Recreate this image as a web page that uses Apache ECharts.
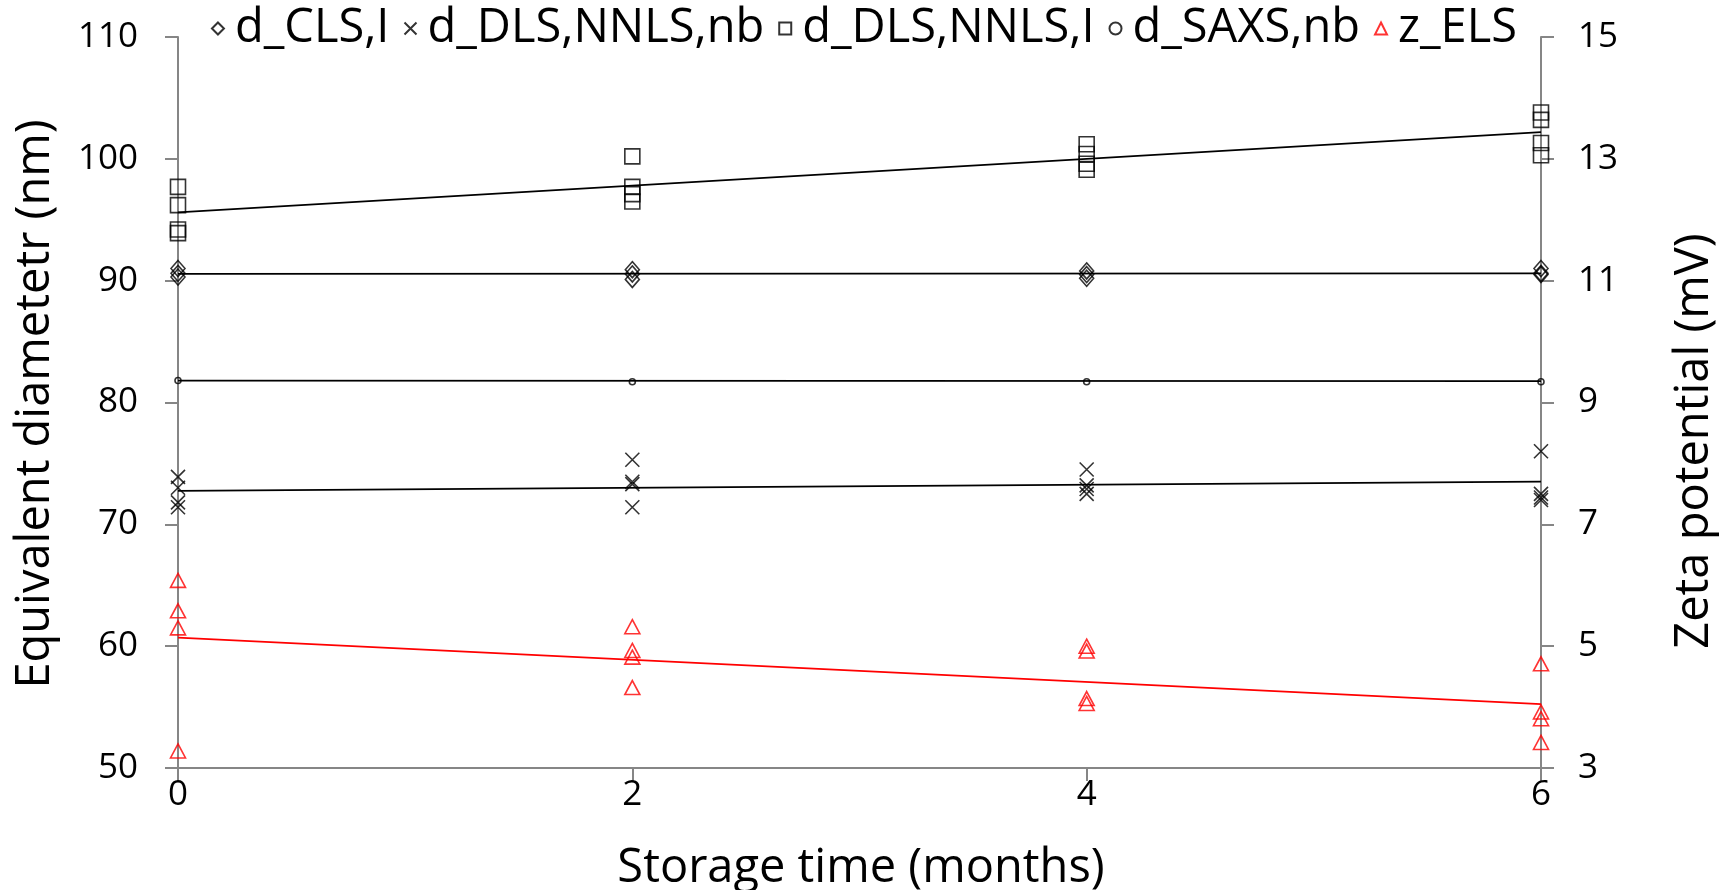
<!DOCTYPE html>
<html>
<head>
<meta charset="utf-8">
<title>Storage stability</title>
<script src="https://cdn.jsdelivr.net/npm/echarts@6/dist/echarts.min.js"></script>
<style>
  html, body { margin: 0; padding: 0; background: #fff; }
  #chart { width: 1728px; height: 890px; }
</style>
</head>
<body>
<div id="chart"></div>
<script>
// storage time (months)
const months = [0, 2, 4, 6];

// replicate readings per month (nm), left axis
const dClsI = [[91.0, 90.6, 90.3], [90.9, 90.55, 90.1], [90.8, 90.5, 90.2], [91.0, 90.6, 90.5]];
const dDlsNb = [[73.9, 73.0, 71.8, 71.4], [75.3, 73.5, 73.3, 71.4], [74.5, 73.2, 72.9, 72.5], [76.0, 72.5, 72.2, 72.0]];
const dDlsI = [[97.7, 96.2, 94.2, 93.9], [100.2, 97.7, 97.1, 96.5], [101.2, 100.4, 99.6, 99.1], [103.8, 103.2, 101.3, 100.3]];
const dSaxsNb = [[81.8], [81.7], [81.7], [81.7]];

// zeta potential replicates (mV), right axis
const zEls = [[6.08, 5.58, 5.30, 3.28], [5.32, 4.93, 4.82, 4.32], [5.00, 4.92, 4.14, 4.06], [4.71, 3.92, 3.81, 3.42]];

// linear trend lines, values at month 0 and month 6
const trendX = [0, 6];
const trendDcls = [90.55, 90.6];
const trendDlsNb = [72.75, 73.5];
const trendDlsI = [95.6, 102.2];
const trendSaxs = [81.8, 81.75];
const trendZ = [5.14, 4.05];

const leftTicks = { min: 50, max: 110, interval: 10 };
const rightTicks = { min: 3, max: 15, interval: 2 };

const FONT = 'Open Sans';
const AXIS_GREY = '#868686';
const TITLE_FONT = '47px "Open Sans"';

const toPoints = (reps) => {
  const pts = [];
  reps.forEach((vals, i) => vals.forEach(v => pts.push([months[i], v])));
  return pts;
};
const toLine = (vals) => vals.map((v, i) => [trendX[i], v]);

const hollow = (color) => ({ color: 'rgba(0,0,0,0)', borderColor: color, borderWidth: 1.6 });

const chart = echarts.init(document.getElementById('chart'));

const option = {
  animation: false,
  backgroundColor: '#fff',
  textStyle: { fontFamily: FONT },
  legend: {
    data: ['d_CLS,I', 'd_DLS,NNLS,nb', 'd_DLS,NNLS,I', 'd_SAXS,nb', 'z_ELS'],
    top: 0,
    left: 'center',
    itemWidth: 12,
    itemHeight: 12,
    itemGap: 14,
    textStyle: { fontSize: 47, color: '#000', fontFamily: FONT, padding: [0, 0, 0, 6] }
  },
  grid: {
    left: 178,
    right: 187,
    top: 37,
    bottom: 122
  },
  xAxis: {
    type: 'value',
    min: 0,
    max: 6,
    interval: 2,
    axisLine: { lineStyle: { color: AXIS_GREY, width: 2 } },
    axisTick: { show: true, length: 13, lineStyle: { color: AXIS_GREY, width: 2 } },
    axisLabel: { color: '#000', fontSize: 35, margin: 10 },
    splitLine: { show: false }
  },
  yAxis: [
    {
      type: 'value',
      position: 'left',
      min: leftTicks.min,
      max: leftTicks.max,
      interval: leftTicks.interval,
      axisLine: { show: true, lineStyle: { color: AXIS_GREY, width: 2 } },
      axisTick: { show: true, length: 13, lineStyle: { color: AXIS_GREY, width: 2 } },
      axisLabel: { color: '#000', fontSize: 35, margin: 40 },
      splitLine: { show: false }
    },
    {
      type: 'value',
      position: 'right',
      min: rightTicks.min,
      max: rightTicks.max,
      interval: rightTicks.interval,
      axisLine: { show: true, lineStyle: { color: AXIS_GREY, width: 2 } },
      axisTick: { show: true, length: 13, lineStyle: { color: AXIS_GREY, width: 2 } },
      axisLabel: { color: '#000', fontSize: 35, margin: 37 },
      splitLine: { show: false }
    }
  ],
  graphic: [
    {
      type: 'text',
      x: 36, y: 404,
      rotation: Math.PI / 2,
      style: { text: 'Equivalent diametetr (nm)', font: TITLE_FONT, fill: '#000', textAlign: 'center', textVerticalAlign: 'middle' }
    },
    {
      type: 'text',
      x: 1695, y: 441,
      rotation: Math.PI / 2,
      style: { text: 'Zeta potential (mV)', font: TITLE_FONT, fill: '#000', textAlign: 'center', textVerticalAlign: 'middle' }
    },
    {
      type: 'text',
      x: 861, y: 869,
      style: { text: 'Storage time (months)', font: TITLE_FONT, fill: '#000', textAlign: 'center', textVerticalAlign: 'middle' }
    }
  ],
  series: [
    {
      name: 'd_CLS,I', type: 'scatter', yAxisIndex: 0,
      symbol: 'diamond', symbolSize: [14, 16],
      itemStyle: hollow('#000'),
      data: toPoints(dClsI)
    },
    {
      name: 'd_DLS,NNLS,nb', type: 'scatter', yAxisIndex: 0,
      symbol: 'path://M0,0L10,10M10,0L0,10', symbolSize: 14,
      itemStyle: hollow('#000'),
      data: toPoints(dDlsNb)
    },
    {
      name: 'd_DLS,NNLS,I', type: 'scatter', yAxisIndex: 0,
      symbol: 'rect', symbolSize: 15,
      itemStyle: hollow('#000'),
      data: toPoints(dDlsI)
    },
    {
      name: 'd_SAXS,nb', type: 'scatter', yAxisIndex: 0,
      symbol: 'circle', symbolSize: 6,
      itemStyle: hollow('#000'),
      data: toPoints(dSaxsNb)
    },
    {
      name: 'z_ELS', type: 'scatter', yAxisIndex: 1,
      symbol: 'triangle', symbolSize: [15, 14],
      itemStyle: hollow('#ff0000'),
      data: toPoints(zEls)
    },
    { name: 'trend d_CLS', type: 'line', yAxisIndex: 0, symbol: 'none', z: 3, lineStyle: { color: '#000', width: 1.7 }, data: toLine(trendDcls) },
    { name: 'trend d_DLS nb', type: 'line', yAxisIndex: 0, symbol: 'none', z: 3, lineStyle: { color: '#000', width: 1.7 }, data: toLine(trendDlsNb) },
    { name: 'trend d_DLS I', type: 'line', yAxisIndex: 0, symbol: 'none', z: 3, lineStyle: { color: '#000', width: 1.7 }, data: toLine(trendDlsI) },
    { name: 'trend d_SAXS', type: 'line', yAxisIndex: 0, symbol: 'none', z: 3, lineStyle: { color: '#000', width: 1.7 }, data: toLine(trendSaxs) },
    { name: 'trend z_ELS', type: 'line', yAxisIndex: 1, symbol: 'none', z: 3, lineStyle: { color: '#ff0000', width: 1.7 }, data: toLine(trendZ) }
  ]
};

chart.setOption(option);
window.addEventListener('resize', () => chart.resize());
</script>
</body>
</html>
